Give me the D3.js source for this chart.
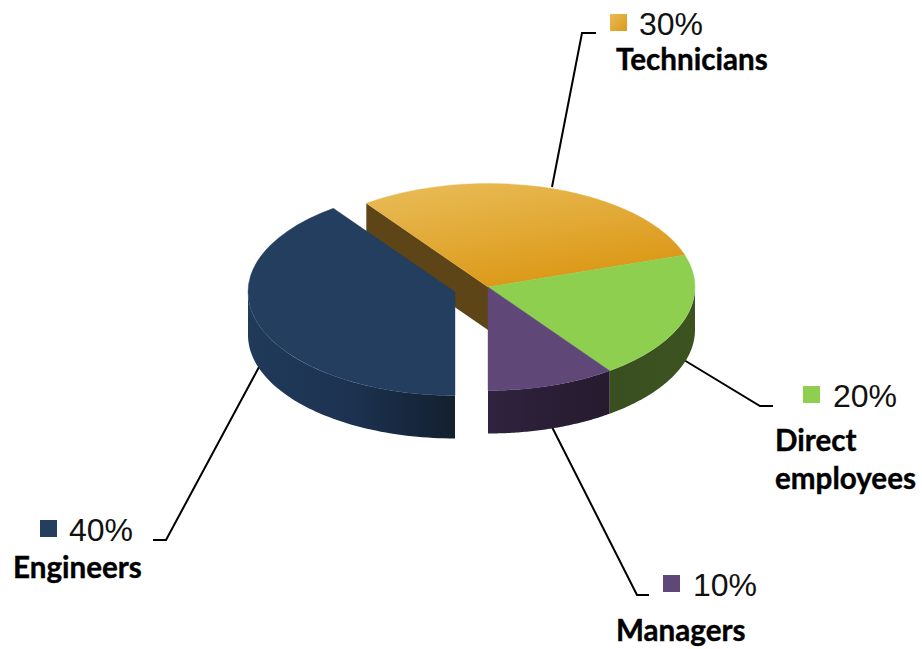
<!DOCTYPE html>
<html>
<head>
<meta charset="utf-8">
<script src="https://cdn.jsdelivr.net/npm/d3@7"></script>
<style>
    html, body { margin: 0; padding: 0; background: #fff; }
</style>
</head>
<body>
<div id="pie"></div>
<script>
// Chart values
const categories = ["Technicians", "Direct employees", "Managers", "Engineers"];
const shares = [30, 20, 10, 40];

const width = 922,
    height = 649;

// Pie geometry
const cx = 488,
    cy = 287,
    rx = 207,
    ry = 103.5,
    depth = 43;
const firstAngle = -36 * Math.PI / 180;

// Engineers slice is pulled out of the pie
const explode = { Engineers: [-33, 5] };

const topFill = {
    "Technicians": "url(#techTop)",
    "Direct employees": "#8ecf50",
    "Managers": "#5f4878",
    "Engineers": "#243e60"
};
const wallFill = {
    "Technicians": "#5e4518",
    "Direct employees": "url(#greenWall)",
    "Managers": "url(#purpleWall)",
    "Engineers": "url(#navyWall)"
};

// Label placement: swatch corner, percent x/baseline, name lines, leader line
const labelLayout = {
    "Technicians": {
        swatch: [610, 14], pct: [639, 35],
        name: [["Technicians", 616, 70]],
        leader: [[552, 187], [582, 33], [596, 33]]
    },
    "Direct employees": {
        swatch: [803, 386], pct: [833, 407],
        name: [["Direct", 775, 451], ["employees", 775, 489]],
        leader: [[684, 360], [760, 406], [773, 406]]
    },
    "Managers": {
        swatch: [663, 575], pct: [693, 596],
        name: [["Managers", 616, 641]],
        leader: [[552, 427], [637, 595], [649, 595]]
    },
    "Engineers": {
        swatch: [40, 520], pct: [69, 541],
        name: [["Engineers", 13, 578]],
        leader: [[259, 367], [166, 540], [153, 540]]
    }
};

let svg = d3.select("#pie")
    .append("svg")
    .attr("width", width)
    .attr("height", height)
    .style("display", "block");

// Gradients
let defs = svg.append("defs");

function addGradient(id, stops, coords, userSpace) {
    let g = defs.append("linearGradient").attr("id", id);
    if (userSpace) g.attr("gradientUnits", "userSpaceOnUse");
    g.attr("x1", coords[0]).attr("y1", coords[1]).attr("x2", coords[2]).attr("y2", coords[3]);
    stops.forEach((s, i) => {
        g.append("stop").attr("offset", i / (stops.length - 1)).attr("stop-color", s);
    });
}

// techTop lives in the unscaled arc space, y is twice the screen y
addGradient("techTop", ["#e7b850", "#dc9a1a"], [-61, -188, 0, 0], true);
addGradient("techSwatch", ["#e8bb58", "#dc9a1a"], [0, 0, 1, 1], false);
addGradient("greenWall", ["#3a4f20", "#3c5320"], [0, 0, 1, 0], false);
addGradient("purpleWall", ["#30233f", "#251a2e"], [0, 0, 1, 0], false);
addGradient("navyWall", ["#213a5a", "#1c3250", "#13202f"], [0, 0, 1, 0], false);

let pie = d3.pie().sort(null).startAngle(firstAngle).endAngle(firstAngle + 2 * Math.PI);
let slices = pie(shares).map((d, i) => ({ ...d, name: categories[i] }));
let arc = d3.arc().innerRadius(0).outerRadius(rx);

function offset(name) {
    return explode[name] || [0, 0];
}

function px(a) { return rx * Math.sin(a); }
function py(a) { return -ry * Math.cos(a); }

// Outer wall, only the part on the front half of the ellipse shows
function wallPath(d) {
    let a0 = Math.max(d.startAngle, Math.PI / 2),
        a1 = Math.min(d.endAngle, 3 * Math.PI / 2);
    if (a1 <= a0) return null;
    let steps = d3.range(0, 61).map(i => a0 + (a1 - a0) * i / 60);
    let pts = steps.map(a => [px(a), py(a)])
        .concat(steps.slice().reverse().map(a => [px(a), py(a) + depth]));
    return d3.line()(pts) + "Z";
}

let leaders = svg.append("g")
    .attr("fill", "none")
    .attr("stroke", "#000")
    .attr("stroke-width", 2);

leaders.selectAll("path")
    .data(categories)
    .join("path")
    .attr("d", d => d3.line()(labelLayout[d].leader));

let pieG = svg.append("g").attr("transform", `translate(${cx},${cy})`);

// Cut face of the technicians slice, seen through the gap
let tech = slices[0];
pieG.append("path")
    .attr("d", d3.line()([
        [px(tech.startAngle), py(tech.startAngle)],
        [0, 0],
        [0, depth],
        [px(tech.startAngle), py(tech.startAngle) + depth]
    ]) + "Z")
    .attr("fill", wallFill["Technicians"]);

// Back to front: the pulled out slice goes last
let order = slices.filter(d => d.name != "Engineers")
    .concat(slices.filter(d => d.name == "Engineers"));

let sliceG = pieG.selectAll("g.slice")
    .data(order)
    .join("g")
    .attr("class", "slice")
    .attr("transform", d => `translate(${offset(d.name)})`);

sliceG.append("path")
    .attr("d", d => wallPath(d))
    .attr("fill", d => wallFill[d.name]);

// thin stroke in the same colour hides the seam against the wall
sliceG.append("path")
    .attr("d", d => arc(d))
    .attr("transform", `scale(1,${ry / rx})`)
    .attr("fill", d => topFill[d.name])
    .attr("stroke", d => topFill[d.name])
    .attr("stroke-width", 0.5);

// Labels
let labels = svg.append("g")
    .selectAll("g")
    .data(slices)
    .join("g");

labels.append("rect")
    .attr("x", d => labelLayout[d.name].swatch[0])
    .attr("y", d => labelLayout[d.name].swatch[1])
    .attr("width", 17)
    .attr("height", 17)
    .attr("fill", d => d.name == "Technicians" ? "url(#techSwatch)" : topFill[d.name]);

labels.append("text")
    .attr("x", d => labelLayout[d.name].pct[0])
    .attr("y", d => labelLayout[d.name].pct[1])
    .attr("font-family", "'Liberation Sans', Arial, sans-serif")
    .attr("font-size", 32)
    .attr("fill", "#111")
    .text(d => d.data + "%");

labels.selectAll("text.name")
    .data(d => labelLayout[d.name].name)
    .join("text")
    .attr("class", "name")
    .attr("x", d => d[1])
    .attr("y", d => d[2])
    .attr("font-family", "Lato, sans-serif")
    .attr("font-weight", 700)
    .attr("font-size", 29.6)
    .attr("fill", "#000")
    .attr("stroke", "#000")
    .attr("stroke-width", 0.4)
    .text(d => d[0]);
</script>
</body>
</html>
